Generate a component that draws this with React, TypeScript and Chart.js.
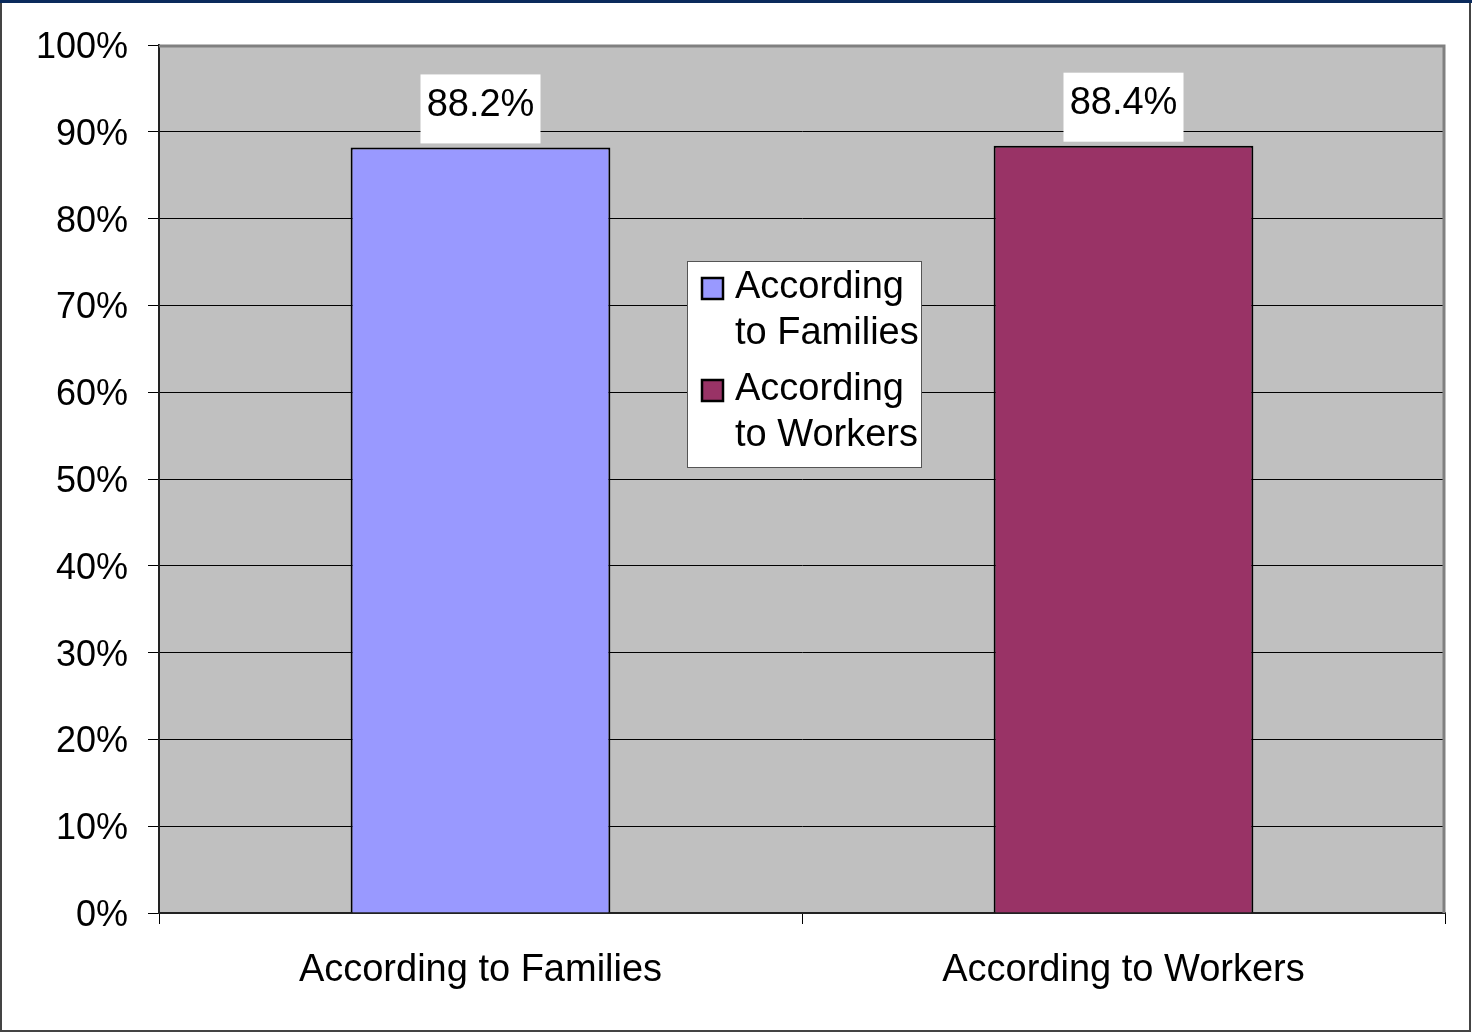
import React, { useEffect, useRef } from "react";
import { Chart, registerables } from "chart.js";

Chart.register(...registerables);

const categories = ["According to Families", "According to Workers"];
const values = [88.2, 88.4];
const legendLines = [
  ["According", "to Families"],
  ["According", "to Workers"],
];
const barColors = ["#9999FF", "#993366"];
const yTicks = [0, 10, 20, 30, 40, 50, 60, 70, 80, 90, 100];

const FONT = "Arial, 'Liberation Sans', sans-serif";

const decorPlugin = {
  id: "decor",
  beforeDraw(chart: any) {
    const { ctx, chartArea: a, width, height } = chart;
    ctx.save();
    ctx.fillStyle = "#FFFFFF";
    ctx.fillRect(0, 0, width, height);
    ctx.fillStyle = "#C0C0C0";
    ctx.fillRect(a.left, a.top, a.right - a.left, a.bottom - a.top);
    ctx.restore();
  },
  afterDatasetsDraw(chart: any) {
    const { ctx, chartArea: a, width, height } = chart;
    ctx.save();
    // plot area border top/right
    ctx.strokeStyle = "#808080";
    ctx.lineWidth = 3;
    ctx.beginPath();
    ctx.moveTo(a.left, a.top + 1);
    ctx.lineTo(a.right - 1, a.top + 1);
    ctx.lineTo(a.right - 1, a.bottom);
    ctx.stroke();

    // data labels
    const meta = chart.getDatasetMeta(0);
    ctx.font = `38px ${FONT}`;
    ctx.textAlign = "center";
    ctx.textBaseline = "middle";
    meta.data.forEach((bar: any, i: number) => {
      const txt = values[i].toFixed(1) + "%";
      const cx = bar.x;
      const top = bar.y;
      ctx.fillStyle = "#FFFFFF";
      ctx.fillRect(cx - 60, top - 73, 120, 69);
      ctx.fillStyle = "#000000";
      ctx.fillText(txt, cx, top - 42);
    });

    // legend
    const lx = 687, ly = 261, lw = 234, lh = 206;
    ctx.fillStyle = "#FFFFFF";
    ctx.fillRect(lx, ly, lw, lh);
    ctx.strokeStyle = "#555555";
    ctx.lineWidth = 1;
    ctx.strokeRect(lx + 0.5, ly + 0.5, lw, lh);
    ctx.textAlign = "left";
    legendLines.forEach((lines, i) => {
      const y0 = ly + 27 + i * 102;
      ctx.fillStyle = barColors[i];
      ctx.fillRect(lx + 15, y0 - 10, 21, 21);
      ctx.strokeStyle = "#000000";
      ctx.lineWidth = 2.5;
      ctx.strokeRect(lx + 15, y0 - 10, 21, 21);
      ctx.fillStyle = "#000000";
      lines.forEach((t, j) => {
        ctx.fillText(t, lx + 48, y0 + j * 46);
      });
    });

    // page border
    ctx.strokeStyle = "#444444";
    ctx.lineWidth = 2;
    ctx.strokeRect(1, 1, width - 3, height - 2);
    ctx.fillStyle = "#0A2A5C";
    ctx.fillRect(0, 0, width, 3);
    ctx.restore();
  },
};

export default function App() {
  const ref = useRef<HTMLCanvasElement>(null);
  useEffect(() => {
    document.body.style.margin = "0";
    const chart = new Chart(ref.current!, {
      type: "bar",
      data: {
        labels: categories,
        datasets: [
          {
            data: values,
            backgroundColor: barColors,
            borderColor: "#000000",
            borderWidth: 2,
            barPercentage: 0.404,
            categoryPercentage: 1,
          },
        ],
      },
      options: {
        responsive: false,
        animation: false,
        devicePixelRatio: 1,
        layout: { padding: { top: 45, right: 27, left: 0, bottom: 0 } },
        plugins: { legend: { display: false }, tooltip: { enabled: false } },
        scales: {
          x: {
            afterFit(s: any) {
              s.height = 1032 - 913;
            },
            grid: {
              offset: true,
              drawOnChartArea: false,
              color: "#000000",
              tickLength: 11,
              lineWidth: 1,
            },
            border: { color: "#222222", width: 2 },
            ticks: {
              color: "#000000",
              font: { family: FONT, size: 38 },
              padding: 24,
            },
          },
          y: {
            min: 0,
            max: 100,
            afterFit(s: any) {
              s.width = 159;
            },
            afterBuildTicks(s: any) {
              s.ticks = yTicks.map((v) => ({ value: v }));
            },
            grid: { color: "#000000", lineWidth: 1, tickLength: 11 },
            border: { color: "#222222", width: 2 },
            ticks: {
              color: "#000000",
              font: { family: FONT, size: 36 },
              padding: 20,
              labelOffset: 3,
              callback: (v: any) => v + "%",
            },
          },
        },
      },
      plugins: [decorPlugin],
    });
    return () => chart.destroy();
  }, []);
  return <canvas ref={ref} width={1472} height={1032} style={{ display: "block" }} />;
}
